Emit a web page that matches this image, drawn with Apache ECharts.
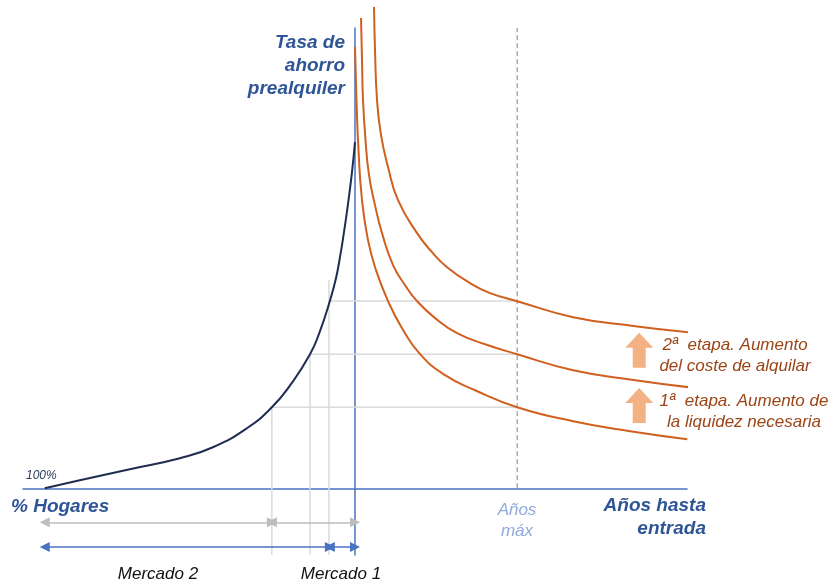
<!DOCTYPE html>
<html>
<head>
<meta charset="utf-8">
<script src="https://cdn.jsdelivr.net/npm/echarts@6/dist/echarts.min.js"></script>
<style>
html, body { margin: 0; padding: 0; background: #fff; }
#main { width: 830px; height: 584px; }
</style>
</head>
<body>
<div id="main"></div>
<script>
// curva de hogares: ahorro necesario segun % de hogares (eje x negativo)
var curvaHogares = [[-100, 0], [-88.71, 1.74], [-72.58, 4.13], [-56.45, 6.52], [-45.81, 8.91], [-34.84, 13.04],
  [-26.8, 17.6], [-20.65, 22.61], [-14.5, 29.1], [-11.29, 34.13], [-8.1, 40.7], [-6.13, 45.65],
  [-4.84, 50.22], [-3.55, 55.65], [-2.26, 61.74], [-0.97, 68.7], [0, 75.22]];
// curvas de años hasta entrada (eje x positivo)
var curvaBase = [[0, 95.87], [0.48, 84.35], [1.13, 73.48], [2.26, 62.61], [4.19, 53.91], [6.77, 47.39],
  [10.65, 40.65], [15.16, 34.78], [20.97, 29.13], [29.03, 24.57], [38.71, 21.3], [52.26, 17.61],
  [70.32, 14.57], [88.71, 12.39], [107.1, 10.65]];
var curvaEtapa1 = [[1.94, 102.17], [2.26, 93.04], [2.58, 84.35], [3.39, 75.65], [4.52, 68.04], [6.45, 61.52],
  [8.71, 55.43], [12.26, 48.48], [16.13, 44.13], [20.0, 40.65], [25.81, 36.96], [32.9, 33.7],
  [41.94, 31.3], [52.26, 29.13], [70.32, 25.65], [90.32, 23.48], [110.32, 21.74]];
var curvaEtapa2 = [[6.13, 104.57], [6.45, 95.22], [7.1, 84.35], [8.39, 76.74], [10.65, 69.78], [13.87, 62.61],
  [20.0, 55.43], [24.84, 51.3], [29.68, 48.04], [37.1, 44.57], [43.55, 42.39], [52.26, 40.65], [70.32, 37.17],
  [90.32, 35.22], [110.32, 33.7]];

// lineas guia
var guiaX = [-26.8, -14.5, -8.4];
var guiaXTop = [17.6, 29.1, 45.2];
var guiaY = [17.6, 29.1, 40.7];
var anosMax = 52.3;

// flechas de rangos
var flechasGris = [[-100, -26.8], [-26.8, 0]];
var flechasAzul = [[-100, -8.1], [-8.1, 0]];
var yFlechaGris = -7.4;
var yFlechaAzul = -12.75;

// flechas naranjas (etapas)
var flechasEtapa = [[91.6, 18.0], [91.6, 30.0]];

var yMin = -14.5, yMax = 100;

var azul = '#2f5597';
var naranja = '#d0601f';
var gris = '#dadada';
var ff = '"Liberation Sans", Arial, sans-serif';

var dom = document.getElementById('main');
var myChart = echarts.init(dom, null, { renderer: 'canvas' });

var series = [];

// guias verticales
guiaX.forEach(function (x, i) {
  series.push({
    type: 'line', silent: true, symbol: 'none',
    lineStyle: { color: gris, width: 1.5 },
    data: [[x, yMin], [x, guiaXTop[i]]]
  });
});
// guias horizontales
guiaY.forEach(function (y, i) {
  series.push({
    type: 'line', silent: true, symbol: 'none',
    lineStyle: { color: gris, width: 1.5 },
    data: [[guiaX[i], y], [anosMax, y]]
  });
});
// años max (discontinua)
series.push({
  type: 'line', silent: true, symbol: 'none',
  lineStyle: { color: '#ababab', width: 1.5, type: [5, 3] },
  data: [[anosMax, 0], [anosMax, yMax]]
});

// flechas dobles
function flechas(segs, y, color) {
  return {
    type: 'line', silent: true, data: [],
    markLine: {
      silent: true, animation: false,
      symbol: ['triangle', 'triangle'], symbolSize: 10,
      label: { show: false },
      lineStyle: { color: color, width: 1.5, type: 'solid' },
      data: segs.map(function (s) { return [{ coord: [s[0], y] }, { coord: [s[1], y] }]; })
    }
  };
}
series.push(flechas(flechasGris, yFlechaGris, '#bdbdbd'));
series.push(flechas(flechasAzul, yFlechaAzul, '#4a72c2'));

// curvas
series.push({
  name: 'Hogares', type: 'line', symbol: 'none', smooth: 0.5, clip: false,
  lineStyle: { color: '#1f2d50', width: 2 },
  data: curvaHogares
});
[curvaBase, curvaEtapa1, curvaEtapa2].forEach(function (c) {
  series.push({
    type: 'line', symbol: 'none', smooth: 0.5, clip: false,
    lineStyle: { color: naranja, width: 2 },
    data: c
  });
});

// flechas de etapa
series.push({
  type: 'scatter', silent: true, clip: false,
  symbol: 'path://M14,0 L28,15 L20.5,15 L20.5,35 L7.5,35 L7.5,15 L0,15 Z',
  symbolSize: [28, 35],
  itemStyle: { color: '#f4b183', opacity: 1 },
  data: flechasEtapa
});

function txt(t, x, y, align, font, color) {
  return {
    type: 'text', silent: true,
    style: { text: t, x: x, y: y, align: align, verticalAlign: 'middle', font: font, fill: color }
  };
}
var fBold = 'italic bold 19px ' + ff;
var fEtapa = 'italic 17px ' + ff;

option = {
  animation: false,
  backgroundColor: '#fff',
  grid: { left: 23, right: 143, top: 28, bottom: 29 },
  xAxis: {
    type: 'value', min: -107, max: 107,
    axisLine: { show: true, onZero: true, lineStyle: { color: '#4a72c2', width: 1.5 } },
    axisTick: { show: false }, axisLabel: { show: false }, splitLine: { show: false }
  },
  yAxis: {
    type: 'value', min: yMin, max: yMax,
    axisLine: { show: true, onZero: true, lineStyle: { color: '#4a72c2', width: 1.5 } },
    axisTick: { show: false }, axisLabel: { show: false }, splitLine: { show: false }
  },
  graphic: [
    txt('Tasa de', 345, 43, 'right', fBold, azul),
    txt('ahorro', 345, 66, 'right', fBold, azul),
    txt('prealquiler', 345, 89, 'right', fBold, azul),
    txt('% Hogares', 11, 507, 'left', fBold, azul),
    txt('Años hasta', 706, 506, 'right', fBold, azul),
    txt('entrada', 706, 529, 'right', fBold, azul),
    txt('100%', 26, 476, 'left', 'italic 12px ' + ff, '#2b3a5c'),
    txt('Años', 517, 510, 'center', 'italic 17px ' + ff, '#8eaadb'),
    txt('máx', 517, 531, 'center', 'italic 17px ' + ff, '#8eaadb'),
    txt('Mercado 2', 158, 574, 'center', 'italic 17px ' + ff, '#111'),
    txt('Mercado 1', 341, 574, 'center', 'italic 17px ' + ff, '#111'),
    txt('2ª  etapa. Aumento', 735, 345, 'center', fEtapa, '#9c4416'),
    txt('del coste de alquilar', 735, 366, 'center', fEtapa, '#9c4416'),
    txt('1ª  etapa. Aumento de', 744, 401, 'center', fEtapa, '#9c4416'),
    txt('la liquidez necesaria', 744, 422, 'center', fEtapa, '#9c4416')
  ],
  series: series
};

if (option && typeof option === "object") {
  myChart.setOption(option, true);
}
</script>
</body>
</html>
